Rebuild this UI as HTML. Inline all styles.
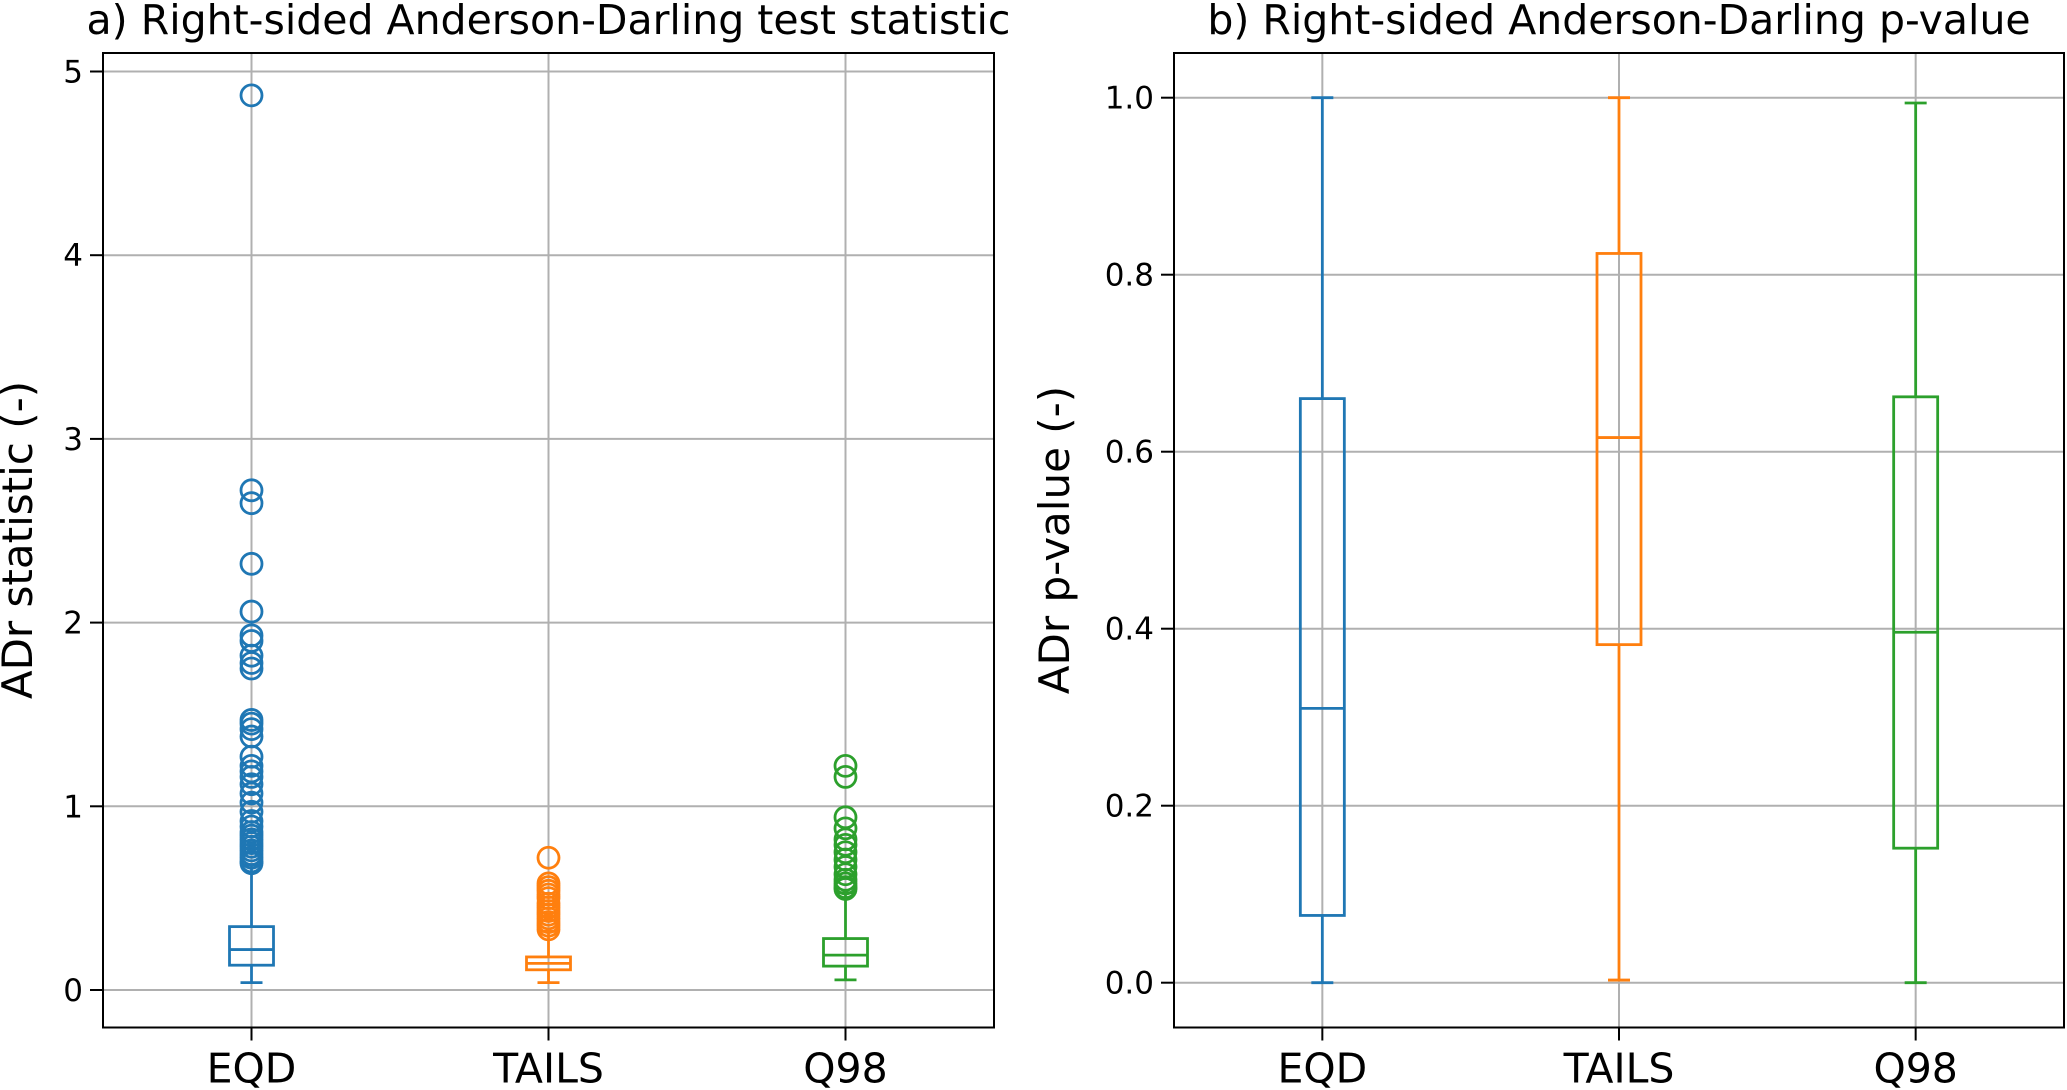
<!DOCTYPE html>
<html><head><meta charset="utf-8"><style>
html,body{margin:0;padding:0;background:#fff;}
svg{display:block;font-family:"DejaVu Sans","Liberation Sans",sans-serif;}
</style></head><body>
<svg id="chart" width="2067" height="1090" viewBox="0 0 2067 1090" xmlns="http://www.w3.org/2000/svg"></svg>
<script>
const categories = ["EQD", "TAILS", "Q98"];
const colors = ["#1f77b4", "#ff7f0e", "#2ca02c"];
// panel a: [whiskerLow, q1, median, q3, whiskerHigh]
const statBoxes = [
  [0.04, 0.135, 0.22, 0.345, 0.68],
  [0.04, 0.11, 0.145, 0.18, 0.32],
  [0.055, 0.13, 0.19, 0.28, 0.53]
];
const statOutliers = [
  [4.87, 2.72, 2.65, 2.32, 2.06, 1.93, 1.90, 1.82, 1.78, 1.75, 1.47, 1.45, 1.42, 1.38, 1.27, 1.22, 1.19, 1.16, 1.12, 1.07, 1.02, 0.97, 0.92, 0.89, 0.86, 0.84, 0.82, 0.80, 0.78, 0.76, 0.74, 0.72, 0.70, 0.69],
  [0.72, 0.58, 0.56, 0.54, 0.52, 0.50, 0.47, 0.45, 0.43, 0.41, 0.39, 0.37, 0.35, 0.33],
  [1.22, 1.16, 0.94, 0.88, 0.82, 0.79, 0.75, 0.71, 0.67, 0.63, 0.60, 0.58, 0.56, 0.55]
];
const statTicks = [0, 1, 2, 3, 4, 5];
// panel b
const pBoxes = [
  [0.0, 0.076, 0.31, 0.66, 1.0],
  [0.003, 0.382, 0.616, 0.824, 1.0],
  [0.0, 0.152, 0.396, 0.662, 0.994]
];
const pTicks = [0.0, 0.2, 0.4, 0.6, 0.8, 1.0];
const pTickLabels = ["0.0", "0.2", "0.4", "0.6", "0.8", "1.0"];

const svg = document.getElementById('chart');
const NS = "http://www.w3.org/2000/svg";
function mk(tag, attrs, parent) {
  const e = document.createElementNS(NS, tag);
  for (const k in attrs) e.setAttribute(k, attrs[k]);
  (parent || svg).appendChild(e);
  return e;
}

function panel(opts) {
  const g = mk('g', {});
  
  
  const L = opts.left, R = opts.right, T = 53, B = 1027.5;
  const y = v => opts.y0 + (opts.y1 - opts.y0) * (v - opts.v0) / (opts.v1 - opts.v0);
  const x = i => L + (R - L) * (2 * i + 1) / 6;
  opts.ticks.forEach((t, i) => {
    const gl = mk('line', {x1: L, x2: R, y1: y(t), y2: y(t), stroke: '#b0b0b0', 'stroke-width': 2}, g);
    
    
    const tk = mk('line', {x1: L - 13, x2: L, y1: y(t), y2: y(t), stroke: '#000', 'stroke-width': 2}, g);
    
    
    const tl = mk('text', {x: L - 20, y: y(t) + 11, 'text-anchor': 'end', 'font-size': 31, fill: '#000'}, g);
    
    
    tl.textContent = opts.labels[i];
  });
  categories.forEach((c, i) => {
    const gl = mk('line', {x1: x(i), x2: x(i), y1: T, y2: B, stroke: '#b0b0b0', 'stroke-width': 2}, g);
    
    
    const tk = mk('line', {x1: x(i), x2: x(i), y1: B, y2: B + 13, stroke: '#000', 'stroke-width': 2}, g);
    
    
    const tl = mk('text', {x: x(i), y: B + 55, 'text-anchor': 'middle', 'font-size': 41, fill: '#000'}, g);
    
    
    tl.textContent = c;
  });
  opts.boxes.forEach((b, i) => {
    const col = colors[i], cx = x(i), hw = 22, cw = 11;
    const bg = mk('g', {stroke: col, 'stroke-width': 2.8, fill: 'none'}, g);
    
    
    mk('line', {x1: cx, x2: cx, y1: y(b[0]), y2: y(b[1])}, bg);
    mk('line', {x1: cx, x2: cx, y1: y(b[3]), y2: y(b[4])}, bg);
    mk('line', {x1: cx - cw, x2: cx + cw, y1: y(b[0]), y2: y(b[0])}, bg);
    mk('line', {x1: cx - cw, x2: cx + cw, y1: y(b[4]), y2: y(b[4])}, bg);
    mk('rect', {x: cx - hw, y: y(b[3]), width: 2 * hw, height: y(b[1]) - y(b[3])}, bg);
    mk('line', {x1: cx - hw, x2: cx + hw, y1: y(b[2]), y2: y(b[2])}, bg);
    if (opts.outliers) {
      opts.outliers[i].forEach(v => {
        const c = mk('circle', {cx: cx, cy: y(v), r: 10.5}, bg);
        
        
      });
    }
  });
  const fr = mk('rect', {x: L, y: T, width: R - L, height: B - T, fill: 'none', stroke: '#000', 'stroke-width': 2}, g);
  
  
  const ti = mk('text', {x: (L + R) / 2, y: 34, 'text-anchor': 'middle', 'font-size': 41, fill: '#000'}, g);
  
  
  ti.textContent = opts.title;
  const yl = mk('text', {x: 0, y: 0, 'text-anchor': 'middle', 'font-size': 42, fill: '#000',
    transform: 'translate(' + opts.ylx + ',540) rotate(-90)'}, g);
  
  
  yl.textContent = opts.ylabel;
}

panel({name: 'panel-a-statistic', left: 103, right: 994, v0: 0, v1: 5, y0: 990, y1: 71.5,
  ticks: statTicks, labels: statTicks.map(String), boxes: statBoxes, outliers: statOutliers,
  title: 'a) Right-sided Anderson-Darling test statistic', ylabel: 'ADr statistic (-)', ylx: 32});
panel({name: 'panel-b-pvalue', left: 1174, right: 2064, v0: 0, v1: 1, y0: 982.7, y1: 97.7,
  ticks: pTicks, labels: pTickLabels, boxes: pBoxes, outliers: null,
  title: 'b) Right-sided Anderson-Darling p-value', ylabel: 'ADr p-value (-)', ylx: 1069});
</script>
</body></html>
